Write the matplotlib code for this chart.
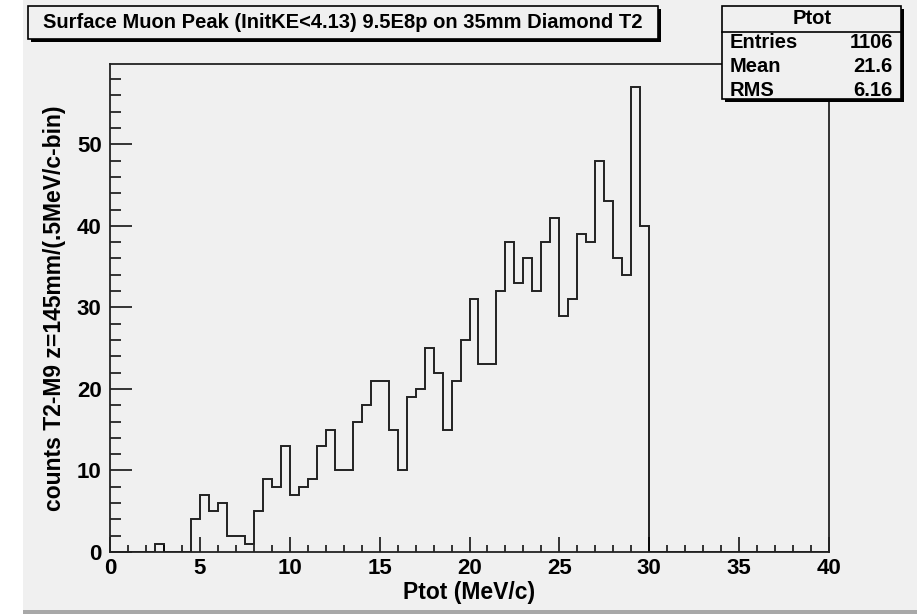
import matplotlib
matplotlib.use("Agg")
import matplotlib.pyplot as plt
from matplotlib.patches import Rectangle
from matplotlib.ticker import MultipleLocator

# histogram Ptot, bins of 0.5 MeV/c from 0 to 40
bin_edges = [i * 0.5 for i in range(81)]
counts = [0, 0, 0, 0, 0, 1, 0, 0, 0, 4,          # 0 - 5
          7, 5, 6, 2, 2, 1, 5, 9, 8, 13,         # 5 - 10
          7, 8, 9, 13, 15, 10, 10, 16, 18, 21,   # 10 - 15
          21, 15, 10, 19, 20, 25, 22, 15, 21, 26,  # 15 - 20
          31, 23, 23, 32, 38, 33, 36, 32, 38, 41,  # 20 - 25
          29, 31, 39, 38, 48, 43, 36, 34, 57, 40,  # 25 - 30
          0, 0, 0, 0, 0, 0, 0, 0, 0, 0,
          0, 0, 0, 0, 0, 0, 0, 0, 0, 0]

title = "Surface Muon Peak (InitKE<4.13) 9.5E8p on 35mm Diamond T2"
xlabel = "Ptot (MeV/c)"
ylabel = "counts T2-M9 z=145mm/(.5MeV/c-bin)"
stat_name = "Ptot"
stat_rows = [("Entries", "1106"), ("Mean", "21.6"), ("RMS", "6.16")]

W, H = 917, 614
bg = "#f0f0f0"
plt.rcParams["font.family"] = ["Liberation Sans", "DejaVu Sans"]
plt.rcParams["font.weight"] = "bold"

fig = plt.figure(figsize=(W / 100, H / 100), dpi=100, facecolor="white")

def fx(x):
    return x / W

def fy(y):
    return 1 - y / H

# canvas
fig.add_artist(Rectangle((fx(23), fy(610)), 1 - fx(23), fy(0) - fy(610),
                         transform=fig.transFigure, facecolor=bg, edgecolor="none", zorder=-5))
fig.add_artist(Rectangle((fx(23), 0), 1 - fx(23), fy(610),
                         transform=fig.transFigure, facecolor="#a8a8a8", edgecolor="none", zorder=-5))

ax = fig.add_axes([fx(110), fy(552), fx(829) - fx(110), fy(64) - fy(552)])
ax.set_facecolor(bg)
ax.stairs(counts, bin_edges, color="#222222", lw=1.4)
ax.set_xlim(0, 40)
ax.set_ylim(0, 59.85)
ax.xaxis.set_major_locator(MultipleLocator(5))
ax.xaxis.set_minor_locator(MultipleLocator(1))
ax.yaxis.set_major_locator(MultipleLocator(10))
ax.yaxis.set_minor_locator(MultipleLocator(2))
ax.tick_params(axis="x", which="major", direction="in", length=10.8, width=1.1, labelsize=16, pad=4)
ax.tick_params(axis="x", which="minor", direction="in", length=5, width=1.1)
ax.tick_params(axis="y", which="major", direction="in", length=15.6, width=1.1, labelsize=16, pad=6)
ax.tick_params(axis="y", which="minor", direction="in", length=7.7, width=1.1)
for s in ax.spines.values():
    s.set_linewidth(1.3)
    s.set_color("#222222")
ax.set_xlabel(xlabel, fontsize=16.5, fontweight="bold", labelpad=2)
ax.set_ylabel(ylabel, fontsize=16.5, fontweight="bold", labelpad=8)

def box(x0, y0, x1, y1, sh=3):
    fig.add_artist(Rectangle((fx(x0 + sh), fy(y1 + sh)), fx(x1) - fx(x0), fy(y0) - fy(y1),
                             transform=fig.transFigure, facecolor="black", edgecolor="none", zorder=3))
    fig.add_artist(Rectangle((fx(x0), fy(y1)), fx(x1) - fx(x0), fy(y0) - fy(y1),
                             transform=fig.transFigure, facecolor=bg, edgecolor="black", lw=1.2, zorder=4))

# title box
box(28, 6, 658, 39)
fig.text(fx(343), fy(22), title, ha="center", va="center", fontsize=14.5, fontweight="bold", zorder=5)

# stats box
box(722, 6, 901, 99)
fig.add_artist(plt.Line2D([fx(722), fx(901)], [fy(32), fy(32)], transform=fig.transFigure,
                          color="black", lw=1.2, zorder=5))
fig.text(fx(812), fy(19), stat_name, ha="center", va="center", fontsize=14.5, fontweight="bold", zorder=5)
for i, (name, val) in enumerate(stat_rows):
    yy = fy(43 + i * 23.5)
    fig.text(fx(730), yy, name, ha="left", va="center", fontsize=14.5, fontweight="bold", zorder=5)
    fig.text(fx(893), yy, val, ha="right", va="center", fontsize=14.5, fontweight="bold", zorder=5)

fig.savefig("out.png", dpi=100, facecolor="white")
